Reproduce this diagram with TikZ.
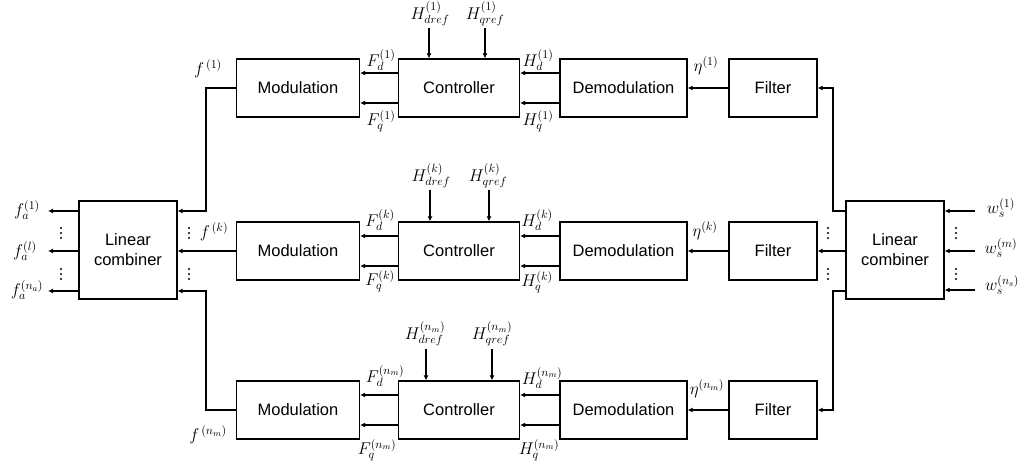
\RequirePackage{fix-cm}
\documentclass[tikz,border=0pt]{standalone}
\usepackage[no-math]{fontspec}
\newfontfamily\arialf{Liberation Sans}
\usetikzlibrary{arrows.meta}
\tikzset{
  blk/.style={draw, line width=1.3pt, minimum height=58pt, inner sep=0pt,
    font=\arialf\fontsize{16.5}{20}\selectfont, align=center},
  arr/.style={line width=1.3pt, -{Latex[length=5pt,width=5pt]}},
  lbl/.style={font=\fontsize{17}{20}\selectfont, inner sep=0pt},
  dotc/.style={fill=black, circle, inner sep=0pt, minimum size=2.2pt}
}
\begin{document}
\begin{tikzpicture}[x=1pt,y=-1pt]
\useasboundingbox (0,0) rectangle (1025,470);

% rows
\foreach \r/\y in {1/88,2/251,3/410}{
  \node[blk, minimum width=123pt] (m\r) at (298,\y) {Modulation};
  \node[blk, minimum width=121pt] (c\r) at (459,\y) {Controller};
  \node[blk, minimum width=127pt] (d\r) at (623.5,\y) {Demodulation};
  \node[blk, minimum width=88pt] (f\r) at (773,\y) {Filter};
}
\node[blk, minimum width=98pt, minimum height=98pt] (lcL) at (128,250) {Linear\\combiner};
\node[blk, minimum width=98pt, minimum height=98pt] (lcR) at (895,250) {Linear\\combiner};

% row connections
\foreach \r in {1,2,3}{
  \draw[arr] (f\r.west) -- (d\r.east);
  \draw[arr] ([yshift=15pt]d\r.west) -- ([yshift=15pt]d\r.west -| c\r.east);
  \draw[arr] ([yshift=-15pt]d\r.west) -- ([yshift=-15pt]d\r.west -| c\r.east);
  \draw[arr] ([yshift=15pt]c\r.west) -- ([yshift=15pt]c\r.west -| m\r.east);
  \draw[arr] ([yshift=-15pt]c\r.west) -- ([yshift=-15pt]c\r.west -| m\r.east);
}

% reference inputs
\coordinate (rd1) at (429,28);  \coordinate (rq1) at (485,28);
\coordinate (rd2) at (430,190); \coordinate (rq2) at (489,190);
\coordinate (rd3) at (426,349); \coordinate (rq3) at (492,349);
\foreach \r in {1,2,3}{
  \draw[arr] (rd\r) -- (rd\r |- c\r.north);
  \draw[arr] (rq\r) -- (rq\r |- c\r.north);
}
\node[lbl] (hdr1) at (430,14) {$H^{(1)}_{dref}$};
\node[lbl] (hqr1) at (485,14) {$H^{(1)}_{qref}$};
\node[lbl] (hdr2) at (431,176) {$H^{(k)}_{dref}$};
\node[lbl] (hqr2) at (488,176) {$H^{(k)}_{qref}$};
\node[lbl] (hdr3) at (425,334) {$H^{(n_m)}_{dref}$};
\node[lbl] (hqr3) at (492,334) {$H^{(n_m)}_{qref}$};

% signal labels row 1
\node[lbl] (Fd1) at (381,60) {$F^{(1)}_d$};
\node[lbl] (Fq1) at (381,121) {$F^{(1)}_q$};
\node[lbl] (Hd1) at (538,60) {$H^{(1)}_d$};
\node[lbl] (Hq1) at (538,121) {$H^{(1)}_q$};
\node[lbl] (eta1) at (706,66) {$\eta^{(1)}$};
\node[lbl] (fm1) at (208,69) {$f^{\,(1)}$};
% row 2
\node[lbl] (Fd2) at (380,220) {$F^{(k)}_d$};
\node[lbl] (Fq2) at (380,281) {$F^{(k)}_q$};
\node[lbl] (Hd2) at (537,220) {$H^{(k)}_d$};
\node[lbl] (Hq2) at (537,282) {$H^{(k)}_q$};
\node[lbl] (eta2) at (705,231) {$\eta^{(k)}$};
\node[lbl] (fm2) at (214,232) {$f^{\,(k)}$};
% row 3
\node[lbl] (Fd3) at (385,376) {$F^{(n_m)}_d$};
\node[lbl] (Fq3) at (377,450) {$F^{(n_m)}_q$};
\node[lbl] (Hd3) at (542,378) {$H^{(n_m)}_d$};
\node[lbl] (Hq3) at (539,450) {$H^{(n_m)}_q$};
\node[lbl] (eta3) at (707,389) {$\eta^{(n_m)}$};
\node[lbl] (fm3) at (208,435) {$f^{\,(n_m)}$};

% modulation -> left combiner
\coordinate (jl1) at (206,211);
\coordinate (jl3) at (206,291);
\draw[arr] (m1.west) -| (jl1) -- ([yshift=39pt]lcL.east);
\draw[arr] (m2.west) -- (m2.west -| lcL.east);
\draw[arr] (m3.west) -| (jl3) -- ([yshift=-41pt]lcL.east);

% right combiner -> filters
\coordinate (jr1) at (833,211);
\coordinate (jr3) at (833,291);
\draw[arr] ([yshift=39pt]lcR.west) -- (jr1) |- (f1.east);
\draw[arr] (lcR.west |- f2.east) -- (f2.east);
\draw[arr] ([yshift=-41pt]lcR.west) -- (jr3) |- (f3.east);

% left outputs
\coordinate (o1) at (48,211);
\coordinate (o2) at (48,251);
\coordinate (o3) at (48,291);
\foreach \i in {1,2,3}{ \draw[arr] (lcL.west |- o\i) -- (o\i); }
\node[lbl] (fa1) at (27,210) {$f^{(1)}_a$};
\node[lbl] (fa2) at (25,251) {$f^{(l)}_a$};
\node[lbl] (fa3) at (27,290) {$f^{(n_a)}_a$};

% right inputs
\coordinate (i1) at (975,211);
\coordinate (i2) at (975,251);
\coordinate (i3) at (975,290);
\foreach \i in {1,2,3}{ \draw[arr] (i\i) -- (i\i -| lcR.east); }
\node[lbl] (ws1) at (1001,208) {$w^{(1)}_s$};
\node[lbl] (ws2) at (1001,248) {$w^{(m)}_s$};
\node[lbl] (ws3) at (1002,285) {$w^{(n_s)}_s$};

% vertical dots
\foreach \x/\n in {61/a,189/b,828/c,956/d}{
  \foreach \yc/\k in {233/1,274/2}{
    \node[dotc] (v\n\k a) at (\x,\yc-5) {};
    \node[dotc] (v\n\k b) at (\x,\yc) {};
    \node[dotc] (v\n\k c) at (\x,\yc+5) {};
  }
}
\end{tikzpicture}
\end{document}
